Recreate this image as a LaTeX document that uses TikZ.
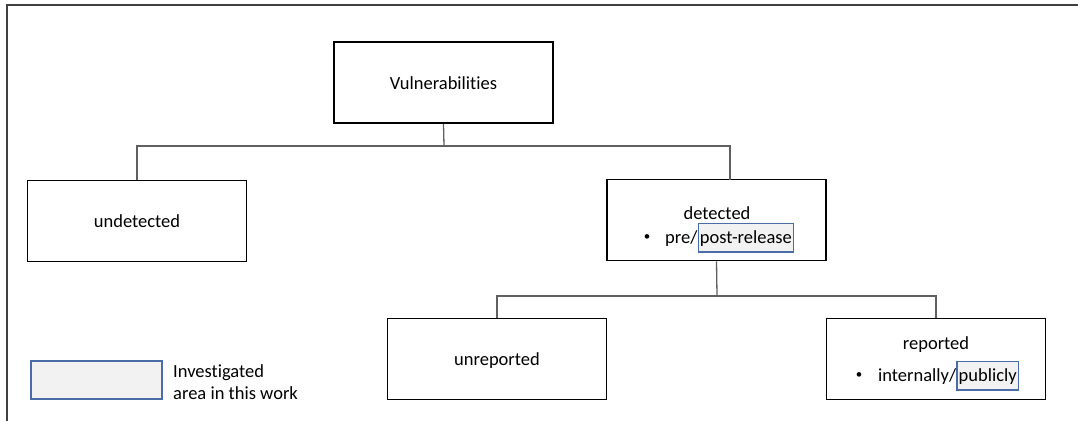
\documentclass[tikz,border=0pt]{standalone}
\usepackage{fontspec}
\setmainfont{Carlito}[RawFeature={-liga;-clig}]
\definecolor{framecol}{HTML}{404040}
\definecolor{linkcol}{HTML}{606060}
\definecolor{hlfill}{HTML}{F2F2F2}
\definecolor{hlborder}{HTML}{4A6DA7}
\tikzset{
  catbox/.style={draw=black, line width=1.8pt, minimum width=219pt, minimum height=81pt, inner sep=0pt},
  link/.style={draw=linkcol, line width=1.3pt},
  lbl/.style={inner sep=0pt, font=\fontsize{18.5}{21.5}\selectfont},
  bul/.style={inner sep=0pt, font=\fontsize{13}{15}\selectfont},
  hl/.style={draw=hlborder, fill=hlfill, line width=1.4pt, inner xsep=1.5pt, inner ysep=4.5pt,
             text height=15pt, text depth=4.5pt, font=\fontsize{18.5}{21.5}\selectfont}
}
\begin{document}
\begin{tikzpicture}[x=1pt,y=-1pt]
\useasboundingbox (0,0) rectangle (1078,420);
\draw[framecol, line width=2pt] (7,421) -- (7,5) -- (1078,5);

\node[catbox] (vuln) at (443.5,82.5) {};
\node[lbl] (vulnt) at (443.5,83) {Vulnerabilities};

\node[catbox] (und) at (137,221) {};
\node[lbl] (undt) at (137,221) {undetected};

\node[catbox] (det) at (716.5,220) {};
\node[lbl] (dett) at (717,213) {detected};
\node[bul] (detb) at (647,238) {•};
\node[lbl, anchor=base west] (pre) at (665,243) {pre/};
\node[hl, anchor=base west] (post) at (pre.base east) {post-release};

\node[catbox] (unrep) at (497,359) {};
\node[lbl] (unrept) at (497,361) {unreported};

\node[catbox] (rep) at (936,359) {};
\node[lbl] (rept) at (936,345) {reported};
\node[bul] (repb) at (859,376) {•};
\node[lbl, anchor=base west] (intl) at (878,381) {internally/};
\node[hl, anchor=base west] (pub) at (intl.base east) {publicly};

\coordinate (j1) at (444,146);
\coordinate (dtop) at (730,179.5);
\draw[link] (vuln.south) -- (j1);
\draw[link] (und.north) |- (j1) -| (dtop);

\coordinate (j2) at (717,296);
\draw[link] (det.south) -- (j2);
\draw[link] (unrep.north) |- (j2) -| (rep.north);

\node[draw=hlborder, fill=hlfill, line width=1.4pt, minimum width=131pt, minimum height=38pt, inner sep=0pt] (legbox) at (96.5,380) {};
\node[lbl, anchor=west, align=left] (legt) at (173,382) {Investigated\\area in this work};
\end{tikzpicture}
\end{document}
